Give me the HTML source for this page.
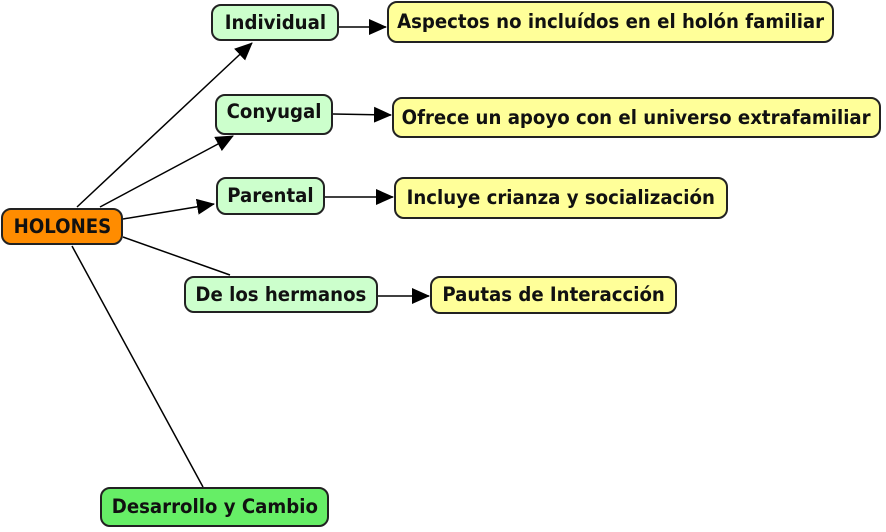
<!DOCTYPE html>
<html><head><style>
body{margin:0;width:886px;height:532px;background:#fff;position:relative;overflow:hidden;font-family:"DejaVu Sans","Liberation Sans",sans-serif;font-weight:bold;}
.b{position:absolute;box-sizing:border-box;border:2px solid #222;border-radius:10px;display:flex;align-items:center;justify-content:center;font-size:19.5px;color:#111;white-space:nowrap;padding-bottom:1px;}
.b span{display:inline-block;transform:scaleX(.93);}
.g{background:#ccffcc}.y{background:#ffff99}
svg{position:absolute;left:0;top:0}
</style></head><body>
<svg width="886" height="532">
<defs><marker id="c" markerWidth="18" markerHeight="16" refX="17" refY="8" orient="auto" markerUnits="userSpaceOnUse"><path d="M0,0L18,8L0,16z" fill="#000"/></marker></defs>
<g stroke="#000" stroke-width="1.5" fill="none">
<line x1="77" y1="207" x2="252" y2="43" marker-end="url(#c)"/>
<line x1="100" y1="207" x2="233" y2="136" marker-end="url(#c)"/>
<line x1="123" y1="219" x2="214" y2="204" marker-end="url(#c)"/>
<line x1="123" y1="237" x2="230" y2="275"/>
<line x1="72" y1="246" x2="203" y2="487"/>
<line x1="339" y1="27" x2="386" y2="27" marker-end="url(#c)"/>
<line x1="333" y1="114" x2="391" y2="115" marker-end="url(#c)"/>
<line x1="325" y1="197" x2="393" y2="197" marker-end="url(#c)"/>
<line x1="378" y1="296" x2="429" y2="296" marker-end="url(#c)"/>
</g></svg>
<div class="b" style="left:1px;top:208px;width:122px;height:37px;background:#ff8c00"><span>HOLONES</span></div>
<div class="b g" style="left:211px;top:4px;width:128px;height:37px"><span>Individual</span></div>
<div class="b g" style="left:215px;top:94px;width:118px;height:41px;padding-bottom:6px"><span>Conyugal</span></div>
<div class="b g" style="left:216px;top:177px;width:109px;height:38px"><span>Parental</span></div>
<div class="b g" style="left:184px;top:276px;width:194px;height:37px"><span>De los hermanos</span></div>
<div class="b" style="left:100px;top:487px;width:229px;height:40px;background:#66ee66"><span>Desarrollo y Cambio</span></div>
<div class="b y" style="left:387px;top:1px;width:447px;height:42px"><span>Aspectos no incluídos en el holón familiar</span></div>
<div class="b y" style="left:392px;top:97px;width:489px;height:41px"><span>Ofrece un apoyo con el universo extrafamiliar</span></div>
<div class="b y" style="left:394px;top:177px;width:334px;height:42px"><span>Incluye crianza y socialización</span></div>
<div class="b y" style="left:430px;top:276px;width:247px;height:38px"><span>Pautas de Interacción</span></div>
</body></html>
